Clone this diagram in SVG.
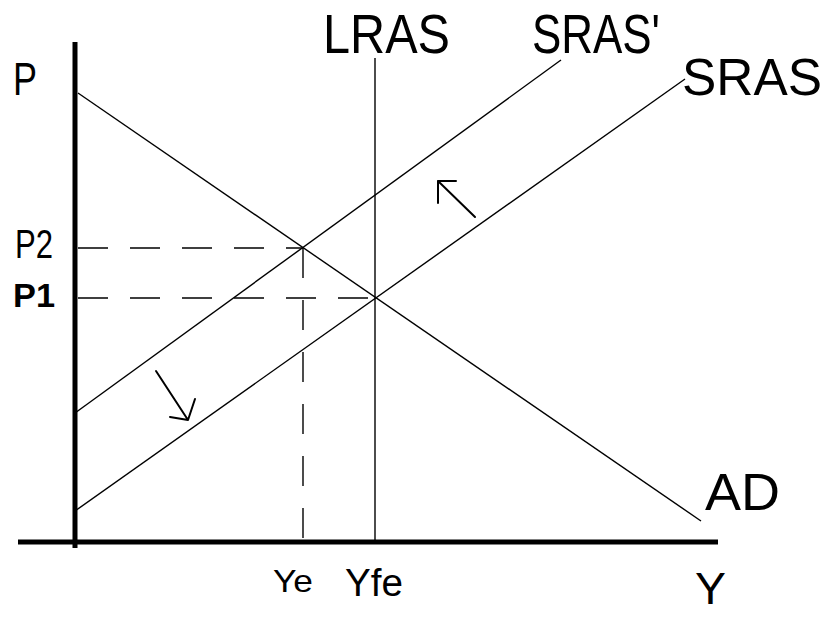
<svg xmlns="http://www.w3.org/2000/svg" width="826" height="618" viewBox="0 0 826 618">
<style>
.ax{stroke:#000;stroke-width:5;fill:none}
.ln{stroke:#000;stroke-width:1.4;fill:none}
.ds{stroke:#000;stroke-width:1.4;fill:none;stroke-dasharray:30 22}
.ar{stroke:#000;stroke-width:2;fill:none;stroke-linecap:round;stroke-linejoin:round}
text{font-family:"Liberation Sans",Arial,sans-serif;fill:#000}
</style>
<rect width="826" height="618" fill="#fff"/>
<g id="axes">
<line class="ax" x1="75" y1="42" x2="75" y2="548"/>
<line class="ax" x1="18" y1="542" x2="718" y2="542"/>
<text x="13" y="95" font-size="46" textLength="24" lengthAdjust="spacingAndGlyphs">P</text>
<text x="695" y="604" font-size="44" textLength="31" lengthAdjust="spacingAndGlyphs">Y</text>
</g>
<g id="AD">
<line class="ln" x1="78" y1="93" x2="701" y2="521"/>
<text x="705" y="510" font-size="52" textLength="75" lengthAdjust="spacingAndGlyphs">AD</text>
</g>
<g id="LRAS">
<line class="ln" x1="375" y1="58" x2="375" y2="542"/>
<text x="323" y="53" font-size="55" textLength="127" lengthAdjust="spacingAndGlyphs">LRAS</text>
</g>
<g id="SRAS2">
<line class="ln" x1="75" y1="413" x2="561" y2="60"/>
<text x="532" y="53" font-size="55" textLength="128" lengthAdjust="spacingAndGlyphs">SRAS'</text>
</g>
<g id="SRAS">
<line class="ln" x1="75" y1="511" x2="685" y2="79"/>
<text x="682" y="95" font-size="52" textLength="140" lengthAdjust="spacingAndGlyphs">SRAS</text>
</g>
<g id="P2">
<line class="ds" x1="78" y1="248" x2="303" y2="248"/>
<text x="15" y="258" font-size="40" textLength="38" lengthAdjust="spacingAndGlyphs">P2</text>
</g>
<g id="P1">
<line class="ds" x1="78" y1="298" x2="375" y2="298"/>
<text x="13" y="307" font-size="34" font-weight="bold" textLength="42" lengthAdjust="spacingAndGlyphs">P1</text>
</g>
<g id="Ye">
<line class="ds" x1="303" y1="248" x2="303" y2="542"/>
<text x="273" y="592" font-size="32" textLength="40" lengthAdjust="spacingAndGlyphs">Ye</text>
</g>
<g id="Yfe">
<text x="345" y="596" font-size="38" textLength="58" lengthAdjust="spacingAndGlyphs">Yfe</text>
</g>
<g id="connectors">
<path class="ar" d="M156 371 L188 420 M170 417 L188 420 L195 399"/>
<path class="ar" d="M475 217 L438 181 M456 181 L438 181 L438 203"/>
</g>
</svg>
